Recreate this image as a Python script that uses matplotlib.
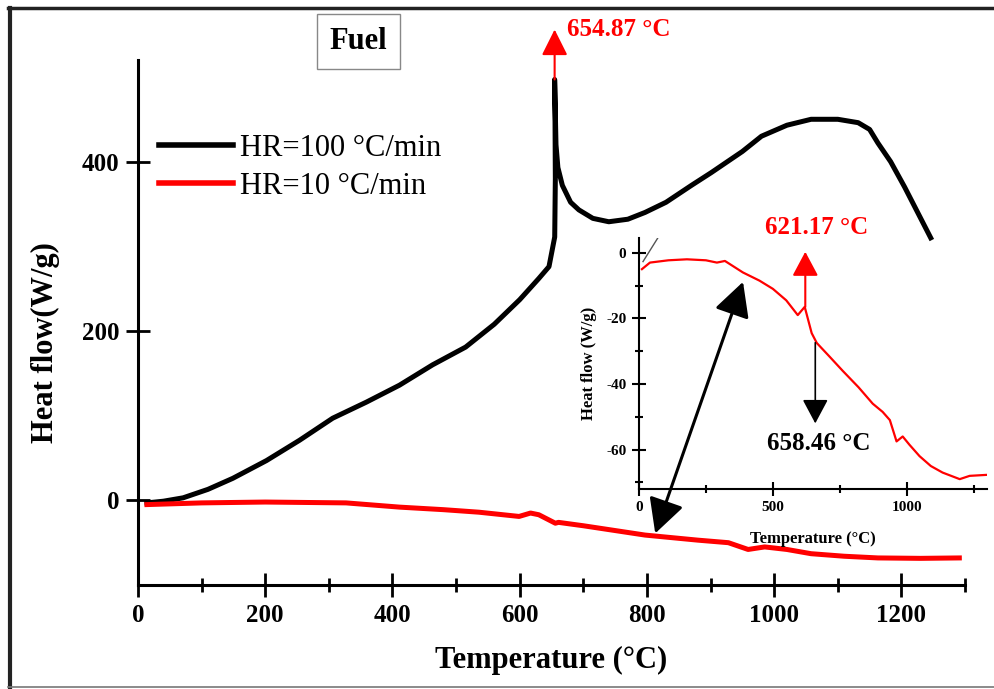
import numpy as np
import matplotlib
matplotlib.use('Agg')
import matplotlib.pyplot as plt
from matplotlib.patches import FancyArrowPatch
from matplotlib.lines import Line2D
from matplotlib.ticker import MultipleLocator

plt.rcParams['font.family'] = ['Liberation Serif', 'DejaVu Serif']
plt.rcParams['axes.unicode_minus'] = False

# HR=100 C/min curve (main plot)
t_100 = [14, 40, 71, 110, 149, 202, 254, 306, 359, 411, 463, 515, 560, 600, 630, 646,
         655, 656, 655.5, 654.87, 657, 660, 667, 680, 693, 715, 740, 770, 797,
         830, 870, 901, 950, 980, 1020, 1058, 1100, 1132, 1150, 1163, 1183, 1205, 1246]
hf_100 = [-3, -1, 3, 13, 26, 47, 71, 97, 116, 136, 160, 181, 208, 237, 262, 276,
          311, 380, 450, 497, 420, 393, 372, 352, 343, 333, 329, 332, 340,
          352, 372, 387, 412, 430, 443, 450, 450, 446, 438, 422, 400, 370, 310]

# HR=10 C/min curve (main plot)
t_10 = [14, 100, 200, 327, 411, 480, 536, 599, 617, 630, 656, 661, 700, 797,
        880, 928, 959, 985, 1020, 1058, 1110, 1163, 1230, 1291]
hf_10 = [-5, -3, -2, -3, -8, -11, -14, -19, -15, -17, -27, -26, -30, -41,
         -47, -50, -58, -55, -58, -63, -66, -68, -68.5, -68]

# HR=10 C/min curve (inset, zoomed)
t_in = [11, 41, 110, 179, 250, 291, 321, 388, 450, 500, 550, 593, 619, 645,
        664, 710, 761, 820, 873, 910, 937, 962, 985, 1010, 1048, 1090, 1134,
        1198, 1235, 1298]
hf_in = [-5, -3, -2.3, -2, -2.3, -3, -2.5, -6, -8.5, -11, -14.5, -19, -16.5,
         -24.5, -27.5, -31.5, -36, -41, -46, -48.5, -51, -57.5, -56, -58.5,
         -62, -65, -67, -69, -68, -67.7]
t_slash = [15, 71]
hf_slash = [-2.7, 4.6]

x_ticks = [0, 200, 400, 600, 800, 1000, 1200]
y_ticks = [0, 200, 400]
x_ticks_in = [0, 500, 1000]
y_ticks_in = [0, -20, -40, -60]

fig = plt.figure(figsize=(9.95, 6.89), dpi=100)

# outer frame
fig.add_artist(Line2D([0.008, 1.0], [0.988, 0.988], color='#222222', lw=2.5,
                      transform=fig.transFigure))
fig.add_artist(Line2D([0.010, 0.010], [0.003, 0.988], color='#222222', lw=3,
                      transform=fig.transFigure))
fig.add_artist(Line2D([0.008, 1.0], [0.003, 0.003], color='#777777', lw=1.2,
                      transform=fig.transFigure))

ax = fig.add_axes([0.1387, 0.1509, 0.8312, 0.762])
ax.plot(t_100, hf_100, color='black', lw=3.6, label='HR=100 \u00b0C/min',
        solid_joinstyle='round')
ax.plot(t_10, hf_10, color='red', lw=3.6, label='HR=10 \u00b0C/min',
        solid_joinstyle='round')
ax.set_xlim(0, 1300)
ax.set_ylim(-100, 520)
ax.spines['top'].set_visible(False)
ax.spines['right'].set_visible(False)
ax.spines['left'].set_linewidth(2.2)
ax.spines['bottom'].set_linewidth(2.2)
ax.set_xticks(x_ticks)
ax.set_yticks(y_ticks)
ax.xaxis.set_minor_locator(MultipleLocator(100))
ax.tick_params(which='major', direction='inout', length=17, width=2,
               labelsize=18, pad=5)
ax.tick_params(which='minor', direction='inout', length=10, width=2)
for lab in ax.get_xticklabels() + ax.get_yticklabels():
    lab.set_fontweight('bold')
ax.set_xlabel('Temperature (\u00b0C)', fontsize=22, fontweight='bold', labelpad=14)
ax.set_ylabel('Heat flow(W/g)', fontsize=22, fontweight='bold')
ax.yaxis.set_label_coords(-0.094, 0.461)

leg = ax.legend(loc='upper left', bbox_to_anchor=(0.0, 0.90), frameon=False,
                fontsize=22, handlelength=2.4, handletextpad=0.25,
                labelspacing=0.3, borderaxespad=0.3)
for ln in leg.get_lines():
    ln.set_linewidth(4)

# "Fuel" box
fig.text(0.36, 0.94, 'Fuel', fontsize=22, fontweight='bold', ha='center',
         va='center',
         bbox=dict(boxstyle='square,pad=0.42', fc='white', ec='#888888', lw=1))

# peak arrow on main curve
ax.add_patch(FancyArrowPatch((654.87, 497), (654.87, 556), arrowstyle='-|>,head_length=16,head_width=8',
                             mutation_scale=1, color='red', lw=1.5,
                             shrinkA=0, shrinkB=0, clip_on=False, zorder=5))
ax.text(674, 556, '654.87 \u00b0C', color='red', fontsize=18, fontweight='bold',
        va='center', ha='left', clip_on=False)

# inset
axi = fig.add_axes([0.6422, 0.2903, 0.3498, 0.3643])
axi.patch.set_alpha(0)
axi.plot(t_in, hf_in, color='red', lw=1.6)
axi.plot(t_slash, hf_slash, color='#555555', lw=1)
axi.set_xlim(0, 1300)
axi.set_ylim(-72, 4.5)
axi.spines['top'].set_visible(False)
axi.spines['right'].set_visible(False)
axi.spines['left'].set_linewidth(1.5)
axi.spines['bottom'].set_linewidth(1.5)
axi.set_xticks(x_ticks_in)
axi.set_yticks(y_ticks_in)
axi.xaxis.set_minor_locator(MultipleLocator(250))
axi.yaxis.set_minor_locator(MultipleLocator(10))
axi.tick_params(which='major', direction='inout', length=10, width=1.5,
                labelsize=11, pad=4)
axi.tick_params(which='minor', direction='inout', length=6, width=1.5)
for lab in axi.get_xticklabels() + axi.get_yticklabels():
    lab.set_fontweight('bold')
axi.set_xlabel('Temperature (\u00b0C)', fontsize=12, fontweight='bold', labelpad=12)
axi.set_ylabel('Heat flow (W/g)', fontsize=12, fontweight='bold', labelpad=7)

axi.add_patch(FancyArrowPatch((621.17, -16.5), (621.17, 0.3), arrowstyle='-|>,head_length=15,head_width=8',
                              mutation_scale=1, color='red', lw=1.5,
                              shrinkA=0, shrinkB=0, clip_on=False, zorder=5))
axi.text(470, 7.6, '621.17 \u00b0C', color='red', fontsize=18, fontweight='bold',
         va='center', ha='left', clip_on=False)
axi.add_patch(FancyArrowPatch((658.46, -27.4), (658.46, -52), arrowstyle='-|>,head_length=15,head_width=8',
                              mutation_scale=1, color='black', lw=1.2,
                              shrinkA=0, shrinkB=0, clip_on=False, zorder=5))
axi.text(478, -58, '658.46 \u00b0C', color='black', fontsize=18, fontweight='bold',
         va='center', ha='left', clip_on=False)

# double arrow linking main curve and inset
dbl = FancyArrowPatch((813, -39), (951, 258), arrowstyle='<|-|>,head_length=21,head_width=11',
                      mutation_scale=1, color='black', lw=2.2, shrinkA=0, shrinkB=0,
                      transform=ax.transData, zorder=10)
fig.add_artist(dbl)

fig.savefig('out.png', dpi=100)
